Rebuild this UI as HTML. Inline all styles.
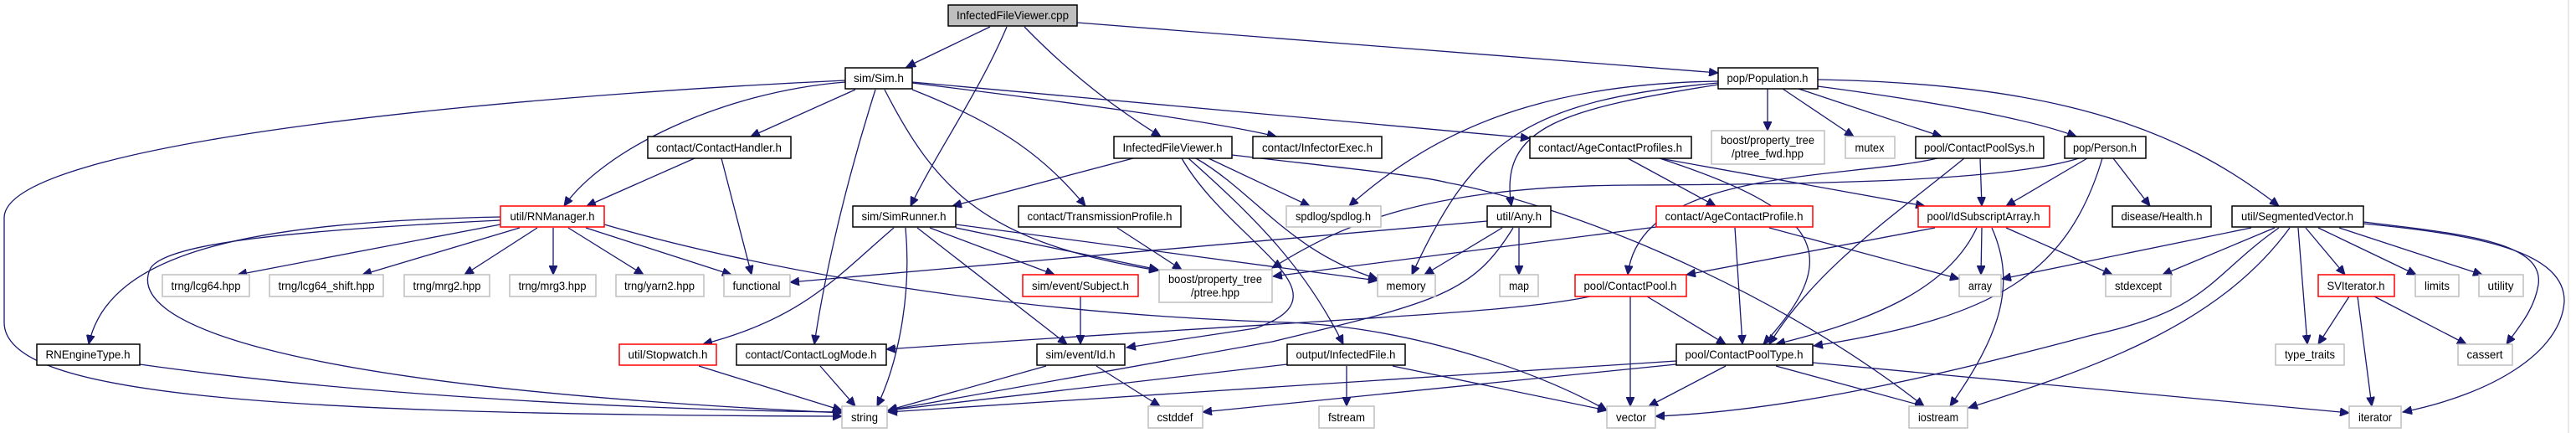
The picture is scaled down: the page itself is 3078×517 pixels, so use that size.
<!DOCTYPE html>
<html><head><meta charset="utf-8"><style>
html,body{margin:0;padding:0;background:#fff}
svg{display:block}
text{font-family:"Liberation Sans",sans-serif;font-size:14px;fill:#000}
.e{fill:none;stroke:#191970;stroke-width:1.3}
.b{fill:#fff;stroke:#000;stroke-width:1.5}
.r{fill:#fff;stroke:#ff0000;stroke-width:1.5}
.g{fill:#fff;stroke:#bfbfbf;stroke-width:1.5}
.root{fill:#bfbfbf;stroke:#000;stroke-width:1.5}
</style></head><body>
<svg width="3078" height="517" viewBox="0 0 3078 517" xmlns="http://www.w3.org/2000/svg">
<defs><marker id="a" markerUnits="userSpaceOnUse" markerWidth="12" markerHeight="10" refX="11" refY="5" orient="auto"><path d="M0,0 L11,5 L0,10 Z" fill="#191970" stroke="#191970"/></marker></defs>
<rect x="0" y="0" width="3078" height="517" fill="#fff"/>
<line x1="3069" y1="0" x2="3069" y2="517" stroke="#d0d0d0" stroke-width="1"/>
<g marker-end="url(#a)" class="e">
<path d="M1183,32 L1083,80"/>
<path d="M1203,32 C1170,110 1120,180 1088,246"/>
<path d="M1224,32 C1290,100 1350,140 1387,163"/>
<path d="M1287,27 L2053,87"/>
<path d="M1010,96 C600,115 5,170 5,260 L5,385 C5,470 300,495 1006,497"/>
<path d="M1010,98 C860,110 720,180 674,246"/>
<path d="M1022,107 L897,163"/>
<path d="M1046,107 C1010,220 985,330 973,411"/>
<path d="M1057,107 C1120,230 1180,290 1384,323"/>
<path d="M1090,107 C1200,150 1250,190 1297,246"/>
<path d="M1090,99 C1300,125 1450,145 1525,163"/>
<path d="M1090,98 L1828,165"/>
<path d="M1354,189 L1138,246"/>
<path d="M1444,189 L1565,246"/>
<path d="M1472,185 C1600,200 1700,210 1729,218 C1850,240 2100,330 2299,485"/>
<path d="M1429,189 C1500,230 1540,300 1646,333"/>
<path d="M1420,189 C1500,260 1560,320 1605,411"/>
<path d="M1412,189 C1470,290 1620,350 1500,392 L1346,415"/>
<path d="M1068,272 C1000,330 960,380 840,411"/>
<path d="M1082,272 C1090,360 1070,440 1048,485"/>
<path d="M1096,272 L1275,411"/>
<path d="M1111,272 L1260,328"/>
<path d="M1142,272 L1384,322"/>
<path d="M1142,268 L1646,335"/>
<path d="M1335,272 L1412,322"/>
<path d="M830,189 L701,246"/>
<path d="M862,189 L898,328"/>
<path d="M1291,354 L1291,411"/>
<path d="M835,437 L1006,490"/>
<path d="M980,437 L1022,485"/>
<path d="M1250,437 L1061,490"/>
<path d="M1310,437 L1386,485"/>
<path d="M598,259 C300,265 130,300 106,411"/>
<path d="M598,263 C350,275 200,290 180,320 C150,380 300,460 1006,493"/>
<path d="M598,268 L284,328"/>
<path d="M621,272 L433,328"/>
<path d="M642,272 L555,328"/>
<path d="M661,272 L661,328"/>
<path d="M679,272 L769,328"/>
<path d="M700,272 L874,328"/>
<path d="M722,268 C900,320 1200,375 1540,385 C1700,392 1850,450 1920,490"/>
<path d="M167,435 C450,475 800,490 1006,492"/>
<path d="M2112,106 L2112,156"/>
<path d="M2130,106 L2215,163"/>
<path d="M2149,106 L2320,163"/>
<path d="M2172,103 C2300,120 2420,140 2481,163"/>
<path d="M2172,95 C2450,100 2600,150 2723,246"/>
<path d="M2053,97 C1850,100 1720,150 1612,246"/>
<path d="M2053,99 C1820,120 1760,170 1687,328"/>
<path d="M2053,101 C1870,130 1790,150 1806,246"/>
<path d="M1945,189 L2050,246"/>
<path d="M1983,189 C2170,250 2210,300 2107,411"/>
<path d="M1983,189 L2300,246"/>
<path d="M2366,189 L2368,246"/>
<path d="M2347,189 C2260,260 2170,320 2114,411"/>
<path d="M2315,189 C2200,215 1960,200 1945,328"/>
<path d="M2494,189 L2397,246"/>
<path d="M2525,189 L2569,246"/>
<path d="M2512,189 C2470,330 2380,380 2167,413"/>
<path d="M2484,189 C2400,215 2200,220 1950,221 C1700,222 1600,270 1520,320"/>
<path d="M1979,271 L1521,330"/>
<path d="M1777,264 L944,337"/>
<path d="M1795,272 L1702,328"/>
<path d="M1815,272 L1815,328"/>
<path d="M1808,272 C1760,350 1720,360 1520,408 L1061,490"/>
<path d="M2114,272 L2341,333"/>
<path d="M2073,272 L2082,411"/>
<path d="M1900,354 C1800,375 1600,380 1059,417"/>
<path d="M1948,354 L1948,485"/>
<path d="M1968,354 L2062,411"/>
<path d="M2312,272 L2015,328"/>
<path d="M2368,272 L2367,328"/>
<path d="M2397,272 L2524,328"/>
<path d="M2380,272 C2410,340 2390,400 2330,485"/>
<path d="M2362,272 C2330,340 2250,380 2122,411"/>
<path d="M2690,272 L2392,333"/>
<path d="M2718,272 L2584,328"/>
<path d="M2723,272 C2640,330 2640,370 2500,400 C2350,440 2150,490 1978,497"/>
<path d="M2736,272 C2650,390 2500,440 2352,487"/>
<path d="M2746,272 L2757,411"/>
<path d="M2755,272 L2802,328"/>
<path d="M2770,272 L2887,328"/>
<path d="M2795,272 L2966,328"/>
<path d="M2824,265 C2950,280 3040,290 3033,340 C3028,370 3010,390 2995,411"/>
<path d="M2824,267 C2960,280 3065,300 3064,360 C3060,420 2980,470 2871,492"/>
<path d="M2807,354 L2770,411"/>
<path d="M2817,354 L2834,485"/>
<path d="M2837,354 L2947,411"/>
<path d="M2062,437 L1970,485"/>
<path d="M2122,437 L2299,485"/>
<path d="M2166,433 L2807,493"/>
<path d="M2003,431 L1061,492"/>
<path d="M2003,435 L1437,492"/>
<path d="M1609,437 L1609,485"/>
<path d="M1664,437 L1920,490"/>
<path d="M1538,435 L1061,490"/>
</g>
<g>
<rect class="root" x="1133" y="6" width="154" height="25"/><text x="1210" y="23" text-anchor="middle" textLength="134" lengthAdjust="spacingAndGlyphs">InfectedFileViewer.cpp</text>
<rect class="b" x="1010" y="81" width="80" height="25"/><text x="1050" y="98" text-anchor="middle" textLength="60" lengthAdjust="spacingAndGlyphs">sim/Sim.h</text>
<rect class="b" x="2053" y="81" width="119" height="25"/><text x="2112" y="98" text-anchor="middle" textLength="97" lengthAdjust="spacingAndGlyphs">pop/Population.h</text>
<rect class="b" x="774" y="163" width="171" height="26"/><text x="859" y="181" text-anchor="middle" textLength="150" lengthAdjust="spacingAndGlyphs">contact/ContactHandler.h</text>
<rect class="b" x="1331" y="163" width="141" height="26"/><text x="1401" y="181" text-anchor="middle" textLength="119" lengthAdjust="spacingAndGlyphs">InfectedFileViewer.h</text>
<rect class="b" x="1497" y="163" width="154" height="26"/><text x="1574" y="181" text-anchor="middle" textLength="132" lengthAdjust="spacingAndGlyphs">contact/InfectorExec.h</text>
<rect class="b" x="1828" y="163" width="193" height="26"/><text x="1924" y="181" text-anchor="middle" textLength="172" lengthAdjust="spacingAndGlyphs">contact/AgeContactProfiles.h</text>
<rect class="g" x="2045" y="156" width="135" height="40"/><text x="2112" y="172" text-anchor="middle" textLength="112" lengthAdjust="spacingAndGlyphs">boost/property_tree</text><text x="2112" y="188" text-anchor="middle" textLength="86" lengthAdjust="spacingAndGlyphs">/ptree_fwd.hpp</text>
<rect class="g" x="2205" y="163" width="59" height="26"/><text x="2234" y="181" text-anchor="middle" textLength="35" lengthAdjust="spacingAndGlyphs">mutex</text>
<rect class="b" x="2289" y="163" width="153" height="26"/><text x="2365" y="181" text-anchor="middle" textLength="132" lengthAdjust="spacingAndGlyphs">pool/ContactPoolSys.h</text>
<rect class="b" x="2467" y="163" width="97" height="26"/><text x="2515" y="181" text-anchor="middle" textLength="76" lengthAdjust="spacingAndGlyphs">pop/Person.h</text>
<rect class="r" x="598" y="246" width="124" height="25"/><text x="660" y="263" text-anchor="middle" textLength="101" lengthAdjust="spacingAndGlyphs">util/RNManager.h</text>
<rect class="b" x="1019" y="246" width="123" height="25"/><text x="1080" y="263" text-anchor="middle" textLength="101" lengthAdjust="spacingAndGlyphs">sim/SimRunner.h</text>
<rect class="b" x="1217" y="246" width="194" height="25"/><text x="1314" y="263" text-anchor="middle" textLength="173" lengthAdjust="spacingAndGlyphs">contact/TransmissionProfile.h</text>
<rect class="g" x="1537" y="246" width="113" height="25"/><text x="1593" y="263" text-anchor="middle" textLength="90" lengthAdjust="spacingAndGlyphs">spdlog/spdlog.h</text>
<rect class="b" x="1777" y="246" width="76" height="25"/><text x="1815" y="263" text-anchor="middle" textLength="54" lengthAdjust="spacingAndGlyphs">util/Any.h</text>
<rect class="r" x="1979" y="246" width="187" height="25"/><text x="2072" y="263" text-anchor="middle" textLength="165" lengthAdjust="spacingAndGlyphs">contact/AgeContactProfile.h</text>
<rect class="r" x="2292" y="246" width="157" height="25"/><text x="2370" y="263" text-anchor="middle" textLength="135" lengthAdjust="spacingAndGlyphs">pool/IdSubscriptArray.h</text>
<rect class="b" x="2524" y="246" width="118" height="25"/><text x="2583" y="263" text-anchor="middle" textLength="97" lengthAdjust="spacingAndGlyphs">disease/Health.h</text>
<rect class="b" x="2667" y="246" width="157" height="25"/><text x="2745" y="263" text-anchor="middle" textLength="134" lengthAdjust="spacingAndGlyphs">util/SegmentedVector.h</text>
<rect class="g" x="194" y="328" width="104" height="26"/><text x="246" y="346" text-anchor="middle" textLength="83" lengthAdjust="spacingAndGlyphs">trng/lcg64.hpp</text>
<rect class="g" x="322" y="328" width="136" height="26"/><text x="390" y="346" text-anchor="middle" textLength="115" lengthAdjust="spacingAndGlyphs">trng/lcg64_shift.hpp</text>
<rect class="g" x="483" y="328" width="102" height="26"/><text x="534" y="346" text-anchor="middle" textLength="81" lengthAdjust="spacingAndGlyphs">trng/mrg2.hpp</text>
<rect class="g" x="609" y="328" width="103" height="26"/><text x="660" y="346" text-anchor="middle" textLength="81" lengthAdjust="spacingAndGlyphs">trng/mrg3.hpp</text>
<rect class="g" x="736" y="328" width="105" height="26"/><text x="788" y="346" text-anchor="middle" textLength="84" lengthAdjust="spacingAndGlyphs">trng/yarn2.hpp</text>
<rect class="g" x="865" y="328" width="79" height="26"/><text x="904" y="346" text-anchor="middle" textLength="57" lengthAdjust="spacingAndGlyphs">functional</text>
<rect class="r" x="1222" y="328" width="138" height="26"/><text x="1291" y="346" text-anchor="middle" textLength="116" lengthAdjust="spacingAndGlyphs">sim/event/Subject.h</text>
<rect class="g" x="1385" y="322" width="135" height="39"/><text x="1452" y="338" text-anchor="middle" textLength="112" lengthAdjust="spacingAndGlyphs">boost/property_tree</text><text x="1452" y="354" text-anchor="middle" textLength="58" lengthAdjust="spacingAndGlyphs">/ptree.hpp</text>
<rect class="g" x="1646" y="328" width="69" height="26"/><text x="1680" y="346" text-anchor="middle" textLength="47" lengthAdjust="spacingAndGlyphs">memory</text>
<rect class="g" x="1792" y="328" width="46" height="26"/><text x="1815" y="346" text-anchor="middle" textLength="24" lengthAdjust="spacingAndGlyphs">map</text>
<rect class="r" x="1882" y="328" width="133" height="26"/><text x="1948" y="346" text-anchor="middle" textLength="111" lengthAdjust="spacingAndGlyphs">pool/ContactPool.h</text>
<rect class="g" x="2341" y="328" width="50" height="26"/><text x="2366" y="346" text-anchor="middle" textLength="28" lengthAdjust="spacingAndGlyphs">array</text>
<rect class="g" x="2516" y="328" width="78" height="26"/><text x="2555" y="346" text-anchor="middle" textLength="56" lengthAdjust="spacingAndGlyphs">stdexcept</text>
<rect class="r" x="2770" y="328" width="91" height="26"/><text x="2815" y="346" text-anchor="middle" textLength="69" lengthAdjust="spacingAndGlyphs">SVIterator.h</text>
<rect class="g" x="2886" y="328" width="52" height="26"/><text x="2912" y="346" text-anchor="middle" textLength="30" lengthAdjust="spacingAndGlyphs">limits</text>
<rect class="g" x="2962" y="328" width="53" height="26"/><text x="2988" y="346" text-anchor="middle" textLength="31" lengthAdjust="spacingAndGlyphs">utility</text>
<rect class="b" x="44" y="411" width="123" height="25"/><text x="105" y="428" text-anchor="middle" textLength="101" lengthAdjust="spacingAndGlyphs">RNEngineType.h</text>
<rect class="r" x="740" y="411" width="116" height="25"/><text x="798" y="428" text-anchor="middle" textLength="95" lengthAdjust="spacingAndGlyphs">util/Stopwatch.h</text>
<rect class="b" x="880" y="411" width="179" height="25"/><text x="969" y="428" text-anchor="middle" textLength="157" lengthAdjust="spacingAndGlyphs">contact/ContactLogMode.h</text>
<rect class="b" x="1239" y="411" width="105" height="25"/><text x="1291" y="428" text-anchor="middle" textLength="83" lengthAdjust="spacingAndGlyphs">sim/event/Id.h</text>
<rect class="b" x="1538" y="411" width="141" height="25"/><text x="1608" y="428" text-anchor="middle" textLength="119" lengthAdjust="spacingAndGlyphs">output/InfectedFile.h</text>
<rect class="b" x="2003" y="411" width="163" height="25"/><text x="2084" y="428" text-anchor="middle" textLength="141" lengthAdjust="spacingAndGlyphs">pool/ContactPoolType.h</text>
<rect class="g" x="2719" y="411" width="82" height="25"/><text x="2760" y="428" text-anchor="middle" textLength="60" lengthAdjust="spacingAndGlyphs">type_traits</text>
<rect class="g" x="2937" y="411" width="65" height="25"/><text x="2969" y="428" text-anchor="middle" textLength="43" lengthAdjust="spacingAndGlyphs">cassert</text>
<rect class="g" x="1006" y="485" width="54" height="26"/><text x="1033" y="503" text-anchor="middle" textLength="32" lengthAdjust="spacingAndGlyphs">string</text>
<rect class="g" x="1372" y="485" width="65" height="26"/><text x="1404" y="503" text-anchor="middle" textLength="43" lengthAdjust="spacingAndGlyphs">cstddef</text>
<rect class="g" x="1576" y="485" width="66" height="26"/><text x="1609" y="503" text-anchor="middle" textLength="44" lengthAdjust="spacingAndGlyphs">fstream</text>
<rect class="g" x="1920" y="485" width="58" height="26"/><text x="1949" y="503" text-anchor="middle" textLength="36" lengthAdjust="spacingAndGlyphs">vector</text>
<rect class="g" x="2281" y="485" width="70" height="26"/><text x="2316" y="503" text-anchor="middle" textLength="48" lengthAdjust="spacingAndGlyphs">iostream</text>
<rect class="g" x="2807" y="485" width="62" height="26"/><text x="2838" y="503" text-anchor="middle" textLength="40" lengthAdjust="spacingAndGlyphs">iterator</text>
</g>
</svg>
</body></html>
